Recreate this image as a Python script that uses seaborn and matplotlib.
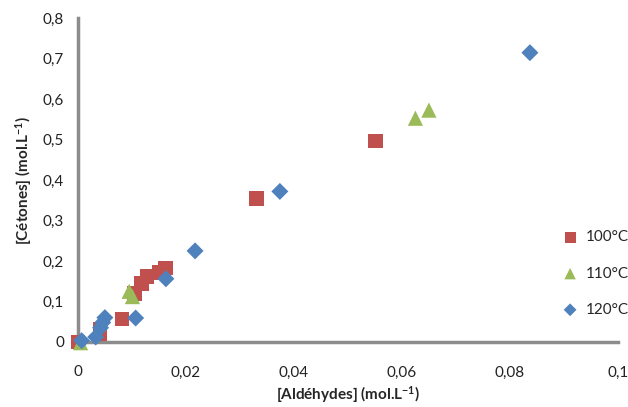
import seaborn as sns
import pandas as pd
import matplotlib.pyplot as plt
from matplotlib.ticker import FuncFormatter

# donnees
x_100 = [0.0, 0.0041, 0.0041, 0.0082, 0.0105, 0.0118, 0.0128, 0.015, 0.0162, 0.0331, 0.0551]
y_100 = [0.0, 0.02, 0.03, 0.057, 0.12, 0.145, 0.162, 0.172, 0.183, 0.355, 0.497]
x_110 = [0.0005, 0.0095, 0.0101, 0.0625, 0.065]
y_110 = [-0.002, 0.125, 0.112, 0.553, 0.573]
x_120 = [0.0007, 0.0033, 0.0042, 0.0046, 0.005, 0.0107, 0.0163, 0.0217, 0.0374, 0.0837]
y_120 = [0.003, 0.012, 0.035, 0.048, 0.06, 0.059, 0.156, 0.225, 0.372, 0.715]
series = ['100°C', '110°C', '120°C']

df = pd.concat([
    pd.DataFrame({'x': x_100, 'y': y_100, 'T': series[0]}),
    pd.DataFrame({'x': x_110, 'y': y_110, 'T': series[1]}),
    pd.DataFrame({'x': x_120, 'y': y_120, 'T': series[2]}),
])

sns.set_style('white')
plt.rcParams['font.family'] = ['Lato', 'DejaVu Sans']
plt.rcParams['mathtext.default'] = 'regular'

fig = plt.figure(figsize=(6.28, 4.07), dpi=100)
ax = fig.add_axes([0.124, 0.16, 0.86, 0.795])

colors = {'100°C': '#C0504D', '110°C': '#9BBB59', '120°C': '#4F81BD'}
markers = {'100°C': 's', '110°C': '^', '120°C': 'D'}
sizes = {'100°C': 110, '110°C': 120, '120°C': 75}
for t in series:
    d = df[df['T'] == t]
    sns.scatterplot(data=d, x='x', y='y', color=colors[t], marker=markers[t],
                    s=sizes[t], edgecolor='none', label=t, ax=ax, zorder=3, clip_on=False)

ax.set_xlim(0, 0.1)
ax.set_ylim(0, 0.8)
ax.set_xticks([0, 0.02, 0.04, 0.06, 0.08, 0.1])
ax.set_yticks([0, 0.1, 0.2, 0.3, 0.4, 0.5, 0.6, 0.7, 0.8])
fmt = FuncFormatter(lambda v, p: '0' if abs(v) < 1e-9 else ('%g' % round(v, 3)).replace('.', ','))
ax.xaxis.set_major_formatter(fmt)
ax.yaxis.set_major_formatter(fmt)
ax.tick_params(length=0, labelsize=11, colors='#222222')
ax.tick_params(axis='x', pad=17)
ax.tick_params(axis='y', pad=10)

for s in ['top', 'right']:
    ax.spines[s].set_visible(False)
for s in ['left', 'bottom']:
    ax.spines[s].set_color('#8c8c8c')
    ax.spines[s].set_linewidth(2.5)

ax.set_xlabel(r'[Aldéhydes] (mol.L$^{-1}$)', fontsize=11, fontweight='bold', labelpad=3)
ax.set_ylabel(r'[Cétones] (mol.L$^{-1}$)', fontsize=11, fontweight='bold', labelpad=6)

leg = ax.legend(loc='lower right', bbox_to_anchor=(1.045, 0.035), frameon=False, fontsize=11,
                labelspacing=1.45, handletextpad=0.0, markerscale=0.75)

fig.savefig('out.png', dpi=100)
